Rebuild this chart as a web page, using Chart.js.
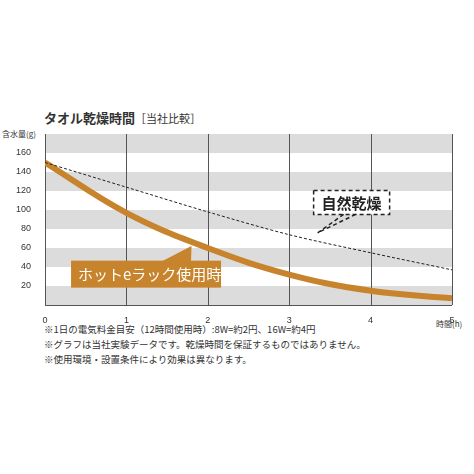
<!DOCTYPE html><html><head><meta charset="utf-8">
<script src="https://cdn.jsdelivr.net/npm/chart.js@4"></script>
<style>body{margin:0;background:#fff;font-family:"Noto Sans CJK JP",sans-serif}
#w{position:relative;width:474px;height:474px}
.t{position:absolute;font-family:"Noto Sans CJK JP";color:#333}
</style></head><body><div id="w">
<div class="t" style="left:44px;top:108px;font-size:13px;font-weight:bold">タオル乾燥時間<span style="font-weight:normal;font-size:11px">［当社比較］</span></div>
<div class="t" style="left:2px;top:128px;font-size:8px">含水量(g)</div>
<div class="t" style="left:436px;top:318px;font-size:8px">時間(h)</div>
<div class="t" style="left:44px;top:322px;font-size:9.5px;line-height:15px">※1日の電気料金目安（12時間使用時）:8W=約2円、16W=約4円<br>※グラフは当社実験データです。乾燥時間を保証するものではありません。<br>※使用環境・設置条件により効果は異なります。</div>
<canvas id="c" width="474" height="474" style="position:absolute;left:0;top:0;width:474px;height:474px"></canvas></div>
<script>
const hours=[0,1,2,3,4,5];
const hotRack=[150,97,60,32,15,7];
const natural=[150,124,98,74,55,37];
const yTicks=[20,40,60,80,100,120,140,160];
const bands={id:'bands',beforeDatasetsDraw(ch){const {ctx,chartArea:a,scales:{y}}=ch;ctx.save();ctx.fillStyle='#dcdcdc';
for(let v=0;v<180;v+=40){const t=y.getPixelForValue(v+20),b=y.getPixelForValue(v);ctx.fillRect(a.left,t,a.right-a.left,b-t);}
ctx.strokeStyle='#555';ctx.lineWidth=1;const x=ch.scales.x;hours.forEach(h=>{const px=Math.round(x.getPixelForValue(h))+.5;ctx.beginPath();ctx.moveTo(px,a.top);ctx.lineTo(px,a.bottom);ctx.stroke();});
ctx.beginPath();ctx.moveTo(a.left,a.bottom+.5);ctx.lineTo(a.right,a.bottom+.5);ctx.stroke();ctx.restore();}};
const labels={id:'labels',afterDatasetsDraw(ch){const {ctx,scales:{x,y}}=ch;ctx.save();
ctx.font='bold 15px "Noto Sans CJK JP"';
let lx=x.getPixelForValue(3.3),ly=y.getPixelForValue(108);const tw=ctx.measureText('自然乾燥').width;
ctx.fillStyle='#fff';ctx.fillRect(lx,ly-12,tw+16,24);ctx.setLineDash([4,3]);ctx.strokeStyle='#222';ctx.lineWidth=1.5;ctx.strokeRect(lx,ly-12,tw+16,24);
ctx.beginPath();ctx.moveTo(lx+30,ly+12);ctx.lineTo(x.getPixelForValue(3.35),y.getPixelForValue(76));ctx.moveTo(lx+42,ly+12);ctx.lineTo(x.getPixelForValue(3.35),y.getPixelForValue(76));ctx.stroke();ctx.setLineDash([]);
ctx.fillStyle='#222';ctx.textBaseline='middle';ctx.fillText('自然乾燥',lx+8,ly+1);
ctx.fillStyle='#c8842c';const hx=x.getPixelForValue(0.32),hy=y.getPixelForValue(33);
ctx.beginPath();ctx.moveTo(hx+90,hy-12);ctx.lineTo(x.getPixelForValue(1.8),y.getPixelForValue(62));ctx.lineTo(hx+120,hy-12);ctx.fill();
ctx.fillRect(hx,hy-13,150,27);ctx.fillStyle='#fff';ctx.font='15px "Noto Sans CJK JP"';ctx.fillText('ホットeラック使用時',hx+7,hy+1);ctx.restore();}};
new Chart(document.getElementById('c'),{type:'scatter',data:{datasets:[
{data:hours.map((h,i)=>({x:h,y:natural[i]})),showLine:true,borderColor:'#222',borderWidth:1,borderDash:[3,2],pointRadius:0,tension:0.3},
{data:hours.map((h,i)=>({x:h,y:hotRack[i]})),showLine:true,borderColor:'#c8842c',borderWidth:6,pointRadius:0,tension:0.4}]},
options:{responsive:false,animation:false,devicePixelRatio:1,layout:{padding:{left:0,right:22,top:134,bottom:0}},
plugins:{legend:{display:false},tooltip:{enabled:false}},
scales:{x:{type:'linear',min:0,max:5,afterFit(s){s.height=169;},grid:{display:false},border:{display:false},ticks:{stepSize:1,color:'#333',font:{size:9,family:'Liberation Sans'},padding:2}},
y:{min:0,max:180,afterFit(s){s.width=45;},grid:{display:false},border:{display:false},afterBuildTicks(s){s.ticks=yTicks.map(v=>({value:v}));},ticks:{color:'#333',font:{size:9,family:'Liberation Sans'},padding:6}}}},
plugins:[bands,labels]});
</script></body></html>
